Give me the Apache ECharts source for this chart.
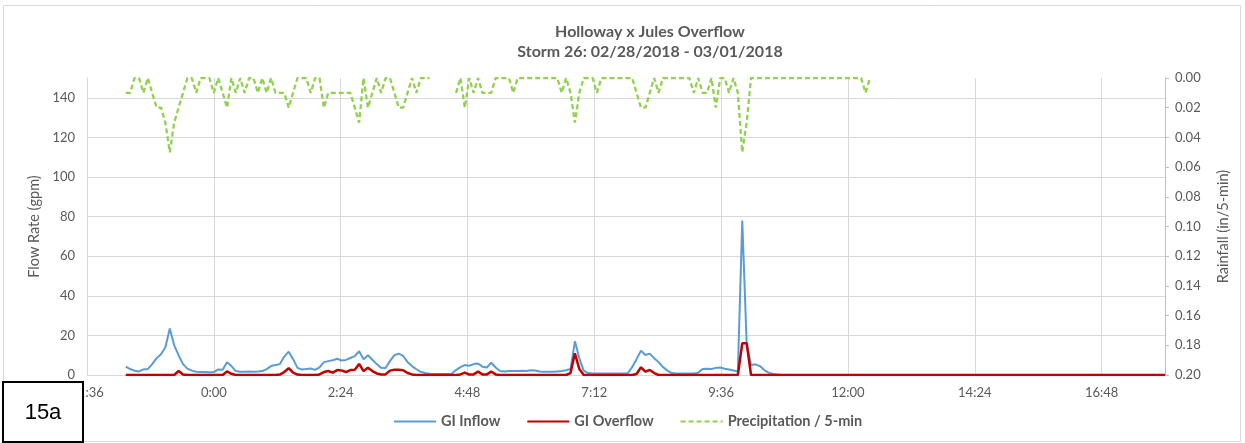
<!DOCTYPE html>
<html>
<head>
<meta charset="utf-8">
<script src="https://cdn.jsdelivr.net/npm/echarts@6/dist/echarts.min.js"></script>
<style>
  html, body { margin: 0; padding: 0; background: #fff; }
  #chart { width: 1245px; height: 443px; }
</style>
</head>
<body>
<div id="chart"></div>
<script>
// readings every 5 minutes, first one at 22:20 (44 min after 21:36)
var startMin = 44;
var stepMin = 5;

var xTickLabels = ["21:36", "0:00", "2:24", "4:48", "7:12", "9:36", "12:00", "14:24", "16:48", "18:00"];

var giInflow = [
  4.2, 3, 2.2, 1.8, 2.8, 3, 5.5, 8.5, 10.5, 14, 23.5, 15,
  10, 5.5, 3.2, 2.2, 1.6, 1.5, 1.5, 1.4, 1.5, 2.8, 2.6, 6.5,
  4.5, 2, 1.7, 1.7, 1.8, 1.7, 1.8, 2, 3, 4.5, 5, 5.5,
  9.3, 11.8, 8, 3.6, 2.8, 3, 3.3, 2.6, 3.8, 6.5, 7, 7.4,
  8.2, 7.3, 7.6, 8.6, 9.5, 12, 8, 10, 7.7, 5.5, 3.6, 3.5,
  7, 10, 10.8, 9.6, 6.5, 4.5, 2.9, 1.6, 1, 0.6, 0.5, 0.5,
  0.5, 0.5, 0.6, 2.5, 4, 5, 4.7, 5.5, 5.8, 4.2, 3.8, 6.2,
  3.8, 2, 1.8, 2, 2, 2, 2.1, 2, 2.4, 2.3, 1.8, 1.7,
  1.7, 1.6, 1.8, 2, 2.4, 3, 17, 8.4, 2.2, 1, 0.8, 0.8,
  0.7, 0.8, 0.7, 0.8, 0.8, 0.7, 0.9, 4, 8, 12.3, 10.1, 10.8,
  8.5, 6.5, 4, 2.2, 1, 0.8, 0.8, 0.7, 0.8, 0.8, 1.2, 3,
  3.1, 3, 3.6, 3.8, 3.2, 2.8, 2.3, 1.8, 78, 16, 5, 5.4,
  4.5, 2.5, 1.2, 0.5, 0.2, 0, 0, 0, 0, 0, 0, 0,
  0, 0, 0, 0, 0, 0, 0, 0, 0, 0, 0, 0,
  0, 0, 0, 0, 0, 0, 0, 0, 0, 0, 0, 0,
  0, 0, 0, 0, 0, 0, 0, 0, 0, 0, 0, 0,
  0, 0, 0, 0, 0, 0, 0, 0, 0, 0, 0, 0,
  0, 0, 0, 0, 0, 0, 0, 0, 0, 0, 0, 0,
  0, 0, 0, 0, 0, 0, 0, 0, 0, 0, 0, 0,
  0, 0, 0, 0, 0, 0, 0, 0, 0
];

var giOverflow = [
  0, 0, 0, 0, 0, 0, 0, 0, 0, 0, 0, 0,
  2, 0.3, 0, 0, 0, 0, 0, 0, 0, 0, 0, 1.8,
  0.6, 0, 0, 0, 0, 0, 0, 0, 0, 0, 0, 0.2,
  1.5, 3.5, 1.2, 0.2, 0, 0, 0, 0, 0.3, 1.5, 2, 1.2,
  2.5, 2.3, 1.5, 2.5, 2.7, 5.6, 2, 3.7, 2, 0.8, 0.3, 0.3,
  2.2, 2.6, 2.6, 2.4, 1, 0.3, 0, 0, 0, 0, 0, 0,
  0, 0, 0, 0, 0.3, 1.2, 0.2, 0.3, 1.7, 0.3, 0.3, 1.7,
  0.3, 0, 0, 0, 0, 0, 0, 0, 0, 0, 0, 0,
  0, 0, 0, 0, 0, 1, 11, 3, 0, 0, 0, 0,
  0, 0, 0, 0, 0, 0, 0, 0, 0.5, 3.9, 1.7, 2.5,
  1, 0, 0, 0, 0, 0, 0, 0, 0, 0, 0, 0,
  0, 0, 0, 0, 0, 0, 0, 0, 16, 16, 0, 0,
  0, 0, 0, 0, 0, 0, 0, 0, 0, 0, 0, 0,
  0, 0, 0, 0, 0, 0, 0, 0, 0, 0, 0, 0,
  0, 0, 0, 0, 0, 0, 0, 0, 0, 0, 0, 0,
  0, 0, 0, 0, 0, 0, 0, 0, 0, 0, 0, 0,
  0, 0, 0, 0, 0, 0, 0, 0, 0, 0, 0, 0,
  0, 0, 0, 0, 0, 0, 0, 0, 0, 0, 0, 0,
  0, 0, 0, 0, 0, 0, 0, 0, 0, 0, 0, 0,
  0, 0, 0, 0, 0, 0, 0, 0, 0
];

// in / 5-min, null = no record
var precip = [
  0.01, 0.01, 0, 0, 0.01, 0, 0.01, 0.02, 0.02, 0.03, 0.05, 0.03,
  0.02, 0.01, 0, 0, 0.01, 0, 0, 0, 0.01, 0, 0.01, 0.02,
  0, 0.01, 0, 0.01, 0, 0, 0.01, 0, 0.01, 0, 0.01, 0.01,
  0.01, 0.02, 0.01, 0, 0, 0, 0.01, 0, 0, 0.02, 0.01, 0.01,
  0.01, 0.01, 0.01, 0.01, 0.02, 0.03, 0, 0.02, 0.01, 0, 0.01, 0,
  0, 0.01, 0.02, 0.02, 0.01, 0, 0.01, 0, 0, 0, null, null,
  null, null, null, 0.01, 0, 0.02, 0, 0.01, 0, 0.01, 0.01, 0.01,
  0, 0, 0, 0, 0.01, 0, 0, 0, 0, 0, 0, 0,
  0, 0, 0, 0.01, 0, 0.01, 0.03, 0.01, 0, 0, 0, 0.01,
  0, 0, 0, 0, 0, 0, 0, 0, 0.01, 0.02, 0.02, 0.01,
  0, 0.01, 0, 0, 0, 0, 0, 0, 0, 0.01, 0, 0.01,
  0.01, 0, 0.02, 0, 0, 0.01, 0, 0.01, 0.05, 0.03, 0, 0,
  0, 0, 0, 0, 0, 0, 0, 0, 0, 0, 0, 0,
  0, 0, 0, 0, 0, 0, 0, 0, 0, 0, 0, 0,
  0.01, 0
];

function toPoints(values) {
  return values.map(function (v, i) {
    return [startMin + stepMin * i, v];
  });
}

var font = "Lato, 'Open Sans', sans-serif";
var grey = "#595959";
var gridGrey = "#D9D9D9";

var myChart = echarts.init(document.getElementById("chart"));
myChart.setOption({
  animation: false,
  textStyle: { fontFamily: font },
  title: {
    text: "Holloway x Jules Overflow\nStorm 26: 02/28/2018 - 03/01/2018",
    left: 645,
    top: 17,
    textAlign: "center",
    textStyle: {
      fontFamily: font,
      fontSize: 16,
      fontWeight: "bold",
      color: grey,
      lineHeight: 20
    }
  },
  legend: {
    bottom: 9,
    left: 388,
    itemWidth: 42,
    itemHeight: 10,
    itemGap: 26,
    itemStyle: { opacity: 0 },
    textStyle: { fontFamily: font, fontSize: 14.5, fontWeight: "bold", color: grey },
    data: ["GI Inflow", "GI Overflow", "Precipitation / 5-min"]
  },
  grid: { left: 87, right: 80, top: 78, bottom: 68 },
  xAxis: {
    type: "value",
    min: 0,
    max: 1224,
    interval: 144,
    axisLine: { show: true, lineStyle: { color: gridGrey } },
    axisTick: { show: false },
    axisLabel: {
      showMaxLabel: false,
      color: grey,
      fontSize: 13,
      margin: 11,
      formatter: function (v) {
        return xTickLabels[Math.round(v / 144)];
      }
    },
    splitLine: { show: true, lineStyle: { color: gridGrey } }
  },
  yAxis: [
    {
      type: "value",
      min: 0,
      max: 150,
      interval: 20,
      name: "Flow Rate (gpm)",
      nameLocation: "middle",
      nameGap: 43,
      nameTextStyle: { color: grey, fontSize: 14.5 },
      axisLine: { show: true, lineStyle: { color: gridGrey } },
      axisTick: { show: false },
      axisLabel: { showMaxLabel: false, color: grey, fontSize: 13, margin: 12 },
      splitLine: { show: true, showMaxLine: false, lineStyle: { color: gridGrey } }
    },
    {
      type: "value",
      position: "right",
      inverse: true,
      min: 0,
      max: 0.2,
      interval: 0.02,
      name: "Rainfall (in/5-min)",
      nameLocation: "middle",
      nameGap: 51,
      nameTextStyle: { color: grey, fontSize: 14.5 },
      axisLine: { show: true, lineStyle: { color: "#BFBFBF" } },
      axisTick: { show: true, length: 4, lineStyle: { color: "#BFBFBF" } },
      axisLabel: {
        color: grey,
        fontSize: 13,
        margin: 10,
        formatter: function (v) { return v.toFixed(2); }
      },
      splitLine: { show: false }
    }
  ],
  series: [
    {
      name: "GI Inflow",
      type: "line",
      yAxisIndex: 0,
      symbol: "none",
      lineStyle: { color: "#5B9BD5", width: 2 },
      itemStyle: { color: "#5B9BD5" },
      data: toPoints(giInflow)
    },
    {
      name: "GI Overflow",
      type: "line",
      yAxisIndex: 0,
      symbol: "none",
      lineStyle: { color: "#C00000", width: 2.5 },
      itemStyle: { color: "#C00000" },
      data: toPoints(giOverflow)
    },
    {
      name: "Precipitation / 5-min",
      type: "line",
      yAxisIndex: 1,
      symbol: "none",
      connectNulls: false,
      lineStyle: { color: "#92D050", width: 2.3, type: [5, 3] },
      itemStyle: { color: "#92D050" },
      data: toPoints(precip)
    }
  ],
  graphic: [
    {
      type: "rect",
      z: -1,
      silent: true,
      shape: { x: 3.5, y: 5.5, width: 1237, height: 436 },
      style: { fill: "none", stroke: gridGrey, lineWidth: 1 }
    },
    {
      type: "rect",
      z: 100,
      zlevel: 1,
      silent: true,
      shape: { x: 3, y: 382, width: 80, height: 60 },
      style: { fill: "#fff", stroke: "#000", lineWidth: 2 }
    },
    {
      type: "text",
      z: 101,
      zlevel: 1,
      silent: true,
      x: 43,
      y: 413,
      style: {
        text: "15a",
        fontFamily: "'Liberation Sans', Arial, sans-serif",
        fontSize: 22,
        fill: "#000",
        align: "center",
        verticalAlign: "middle"
      }
    }
  ]
});
</script>
</body>
</html>
